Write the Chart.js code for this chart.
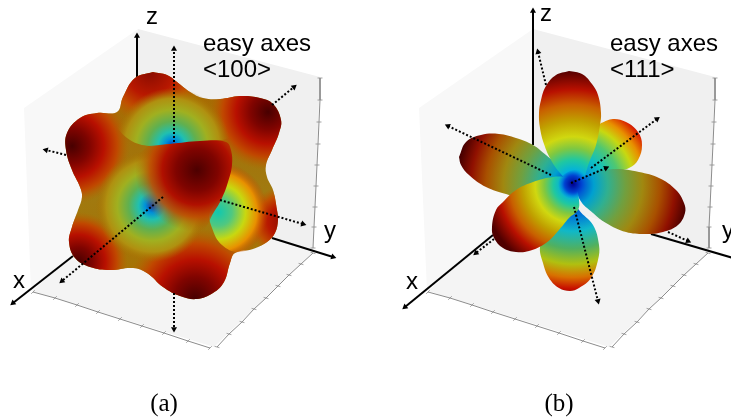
<!DOCTYPE html>
<html>
<head>
<meta charset="utf-8">
<title>easy axes</title>
<script src="https://cdn.jsdelivr.net/npm/chart.js@4"></script>
<style>
  html, body { margin: 0; padding: 0; background: #fff; overflow: hidden; }
  canvas { display: block; filter: blur(0.4px); }
</style>
</head>
<body>
<canvas id="chart" width="731" height="420"></canvas>
<script>

// panel (a) box
const wallLeftA = [[24,108],[138,29],[135,200],[31,291],[24,108]];
const wallRightA = [[138,29],[320,77],[313,252],[135,200],[138,29]];
const floorA = [[32,291],[135,200],[313,252],[214,347],[32,291]];
const ticksZA = [[320,78],[320,100],[319,122],[318,144],[317,165],[316,186],[315,207],[314,227],[313,248]];
const ticksXA = [[33,292],[55,298],[77,305],[98,312],[120,319],[142,326],[164,333],[188,341],[210,348]];
const ticksYA = [[217,347],[229,334],[242,322],[254,309],[266,298],[278,286],[289,275],[301,264],[313,253]];

// panel (a) surface
const outlineA = [[153,72],[167,75],[177,82],[190,92],[203,98],[220,99],[240,96],[260,98],[273,104],[281,120],[279,133],[272,150],[266,165],[267,177],[273,190],[277,210],[278,220],[275,233],[267,242],[253,249],[235,253],[230,263],[224,282],[213,293],[197,299],[180,296],[163,287],[147,273],[133,268],[110,270],[90,267],[75,258],[69,242],[72,227],[78,210],[82,197],[80,187],[72,170],[66,150],[67,133],[80,118],[97,113],[117,112],[123,97],[135,78],[153,72]];
const pitTopA = [[112,122],[125,100],[150,88],[180,86],[210,92],[232,108],[238,130],[226,139],[200,142],[170,144],[150,146],[130,140],[112,122]];
const pitRightA = [[233,160],[248,156],[262,175],[268,205],[262,240],[240,252],[222,245],[212,228],[210,212],[222,195],[233,160]];
const ridgeA = [[148,146],[170,144],[200,141],[226,142],[231,150],[232,165],[228,182],[222,198],[214,212],[200,232],[170,228],[140,200],[125,170],[148,146]];

// panel (a) axes and easy axes
const axisZA = [[137,80],[137,36]];
const axisXA = [[73,256],[13,303]];
const axisYA = [[272,238],[333,257]];
const easyA = [
  [[174,142],[174,49]],
  [[272,105],[294,87]],
  [[66,155],[46,150]],
  [[220,200],[303,224]],
  [[163,197],[62,281]],
  [[174,293],[174,329]]
];

// panel (b) box
const wallLeftB = [[419,108],[533,29],[530,200],[427,291],[419,108]];
const wallRightB = [[533,29],[715,77],[709,252],[530,200],[533,29]];
const floorB = [[428,291],[530,200],[709,252],[609,347],[428,291]];
const ticksZB = [[715,78],[715,100],[714,122],[713,144],[712,165],[711,186],[710,207],[709,227],[709,248]];
const ticksXB = [[428,292],[450,298],[472,305],[493,312],[515,319],[537,326],[559,333],[583,341],[605,348]];
const ticksYB = [[612,347],[624,334],[637,322],[649,309],[661,298],[673,286],[684,275],[696,264],[708,253]];

// panel (b) lobes
const lobeBack = [[601,123],[613,119],[626,122],[638,132],[642,145],[638,160],[629,168],[613,172],[585,182],[580,150],[595,130],[601,123]];
const lobeLeft = [[459,157],[466,142],[481,135],[499,134],[516,138],[533,145],[546,155],[558,165],[572,178],[565,187],[545,195],[520,197],[506,194],[486,187],[469,175],[461,165],[459,157]];
const lobeTop = [[569,71],[582,74],[592,84],[598,95],[601,113],[600,125],[596,145],[590,160],[581,182],[570,182],[560,173],[551,160],[544,144],[540,128],[539,113],[541,100],[546,86],[556,75],[569,71]];
const lobeBottom = [[572,195],[579,210],[593,225],[599,245],[598,260],[591,278],[579,288],[570,291],[559,288],[549,278],[543,263],[540,247],[546,235],[560,225],[572,195]];
const lobeRight = [[575,182],[596,172],[616,169],[639,172],[659,178],[676,190],[684,203],[685,213],[678,225],[663,232],[646,234],[626,232],[606,223],[593,213],[580,200],[575,182]];
const lobeFront = [[569,177],[553,177],[533,182],[516,190],[503,202],[496,210],[492,227],[494,238],[503,248],[516,252],[529,251],[546,243],[559,230],[569,218],[578,210],[579,200],[576,187],[569,177]];
const coreB = [[558,178],[575,170],[590,178],[588,194],[572,200],[560,192],[558,178]];

// panel (b) axes and easy axes
const axisZB = [[533,145],[533,11]];
const axisXB = [[493,235],[405,307]];
const axisYB = [[651,234],[740,260]];
const easyB = [
  [[551,175],[448,126]],
  [[546,85],[538,52]],
  [[591,168],[657,119]],
  [[571,183],[606,168]],
  [[574,207],[598,301]],
  [[494,239],[476,253]],
  [[668,232],[688,241]]
];

// text
const labelTexts = ['z', 'x', 'y', 'easy axes', '<100>', 'z', 'x', 'y', 'easy axes', '<111>'];
const labelAt = [[146,24],[13,288],[324,238],[203,51],[203,77],[540,21],[406,289],[722,238],[610,51],[610,77]];
const captionTexts = ['(a)', '(b)'];
const captionAt = [[164,411],[559,411]];

// colour ramps, centre of the surface out to the tip
const jetBright = [[0,'#00008f'],[0.05,'#0050e0'],[0.12,'#00b0e0'],[0.22,'#20c8a0'],[0.32,'#80c840'],[0.42,'#d0d810'],[0.56,'#c0a000'],[0.7,'#c86000'],[0.83,'#b81000'],[1,'#500000']];
const jetDim = [[0,'#00008f'],[0.08,'#0050d0'],[0.18,'#00a0d0'],[0.3,'#30b090'],[0.45,'#70a040'],[0.6,'#a08810'],[0.75,'#a85000'],[0.88,'#901000'],[1,'#480000']];
const jetBack = [[0,'#0040d0'],[0.15,'#0090e0'],[0.35,'#10c0c0'],[0.52,'#50c870'],[0.68,'#c8d810'],[0.8,'#e89000'],[0.92,'#d82000'],[1,'#900800']];
const jetLong = [[0,'#0030c0'],[0.27,'#0070d8'],[0.42,'#10b8c8'],[0.58,'#50b060'],[0.72,'#b0c010'],[0.84,'#d87000'],[0.94,'#c81000'],[1,'#900800']];
const redPeak = [[0,'#480000'],[0.3,'#800400'],[0.55,'#b81000'],[0.78,'#c04800'],[1,'rgba(180,100,0,0)']];
const softPeak = [[0,'#8a0c00'],[0.45,'#b81800'],[0.75,'#c05000'],[1,'rgba(180,100,0,0)']];
const pitRamp = [[0,'#0038c0'],[0.12,'#0090d8'],[0.24,'#20c0b0'],[0.42,'#60b050'],[0.62,'#a0b020'],[0.82,'#b09010'],[1,'rgba(170,110,0,0)']];
const pitRight = [[0,'#10c8b0'],[0.28,'#50c880'],[0.55,'#c8d810'],[0.78,'#e89000'],[1,'rgba(200,60,0,0)']];
const ridgeRamp = [[0,'#4c0000'],[0.34,'#800400'],[0.56,'#b01000'],[0.76,'rgba(192,70,0,0.85)'],[1,'rgba(170,110,0,0)']];

function linear(x0, y0, x1, y1, stops) {
  return ({ chart }) => {
    if (!chart.chartArea || !chart.scales.x) return 'transparent';
    const g = chart.ctx.createLinearGradient(chart.scales.x.getPixelForValue(x0), chart.scales.y.getPixelForValue(y0), chart.scales.x.getPixelForValue(x1), chart.scales.y.getPixelForValue(y1));
    stops.forEach(s => g.addColorStop(s[0], s[1]));
    return g;
  };
}

function radial(cx, cy, r, stops) {
  return ({ chart }) => {
    if (!chart.chartArea || !chart.scales.x) return 'transparent';
    const px = chart.scales.x.getPixelForValue(cx), py = chart.scales.y.getPixelForValue(cy);
    const g = chart.ctx.createRadialGradient(px, py, 0, px, py, r);
    stops.forEach(s => g.addColorStop(s[0], s[1]));
    return g;
  };
}

const shape = (data, backgroundColor, tension = 0.4) => ({ data, backgroundColor, fill: 'shape', showLine: true, borderWidth: 0, borderColor: 'transparent', tension, pointRadius: 0 });
const edge = (data, angle) => ({ data, showLine: true, borderColor: '#8c8c8c', borderWidth: 1, pointStyle: 'line', pointRadius: 2.5, pointRotation: angle, pointBorderColor: '#8c8c8c', pointBorderWidth: 0.8 });

function arrow(line, width, dash) {
  const a = line[0], b = line[1];
  const rot = Math.atan2(b[0] - a[0], a[1] - b[1]) * 180 / Math.PI;
  return {
    data: line, showLine: true, borderColor: '#000', borderWidth: width, borderDash: dash,
    pointStyle: 'triangle', pointRadius: [0, 3.5], pointRotation: rot, pointBackgroundColor: '#000', pointBorderWidth: 0
  };
}

// painted back to front
const layers = [
  shape(wallLeftA, '#f8f8f8', 0), shape(wallRightA, '#f0f0f0', 0), shape(floorA, '#f4f4f4', 0),
  edge(ticksZA, 0), edge(ticksXA, -45), edge(ticksYA, 15),
  arrow(axisZA, 2, []), arrow(axisXA, 2, []), arrow(axisYA, 2, []),
  shape(outlineA, linear(0, 80, 0, 300, [[0,'#a86800'],[0.5,'#a07a10'],[1,'#a87000']])),
  shape(outlineA, radial(72, 146, 58, redPeak)),
  shape(outlineA, radial(150, 72, 52, softPeak)),
  shape(outlineA, radial(268, 112, 58, redPeak)),
  shape(outlineA, radial(284, 222, 36, softPeak)),
  shape(outlineA, radial(195, 298, 70, redPeak)),
  shape(outlineA, radial(78, 262, 50, redPeak)),
  shape(outlineA, radial(152, 206, 56, pitRamp)),
  shape(pitTopA, radial(172, 146, 58, pitRamp)),
  shape(pitRightA, radial(218, 212, 50, pitRight)),
  shape(ridgeA, radial(197, 170, 62, ridgeRamp)),
  ...easyA.map(l => arrow(l, 2, [2, 2])),

  shape(wallLeftB, '#f8f8f8', 0), shape(wallRightB, '#f0f0f0', 0), shape(floorB, '#f4f4f4', 0),
  edge(ticksZB, 0), edge(ticksXB, -45), edge(ticksYB, 15),
  arrow(axisZB, 2, []), arrow(axisXB, 2, []), arrow(axisYB, 2, []),
  shape(lobeBack, radial(573, 185, 90, jetBack)),
  shape(lobeLeft, radial(573, 185, 116, jetDim)),
  shape(lobeTop, radial(573, 185, 115, jetBright)),
  shape(lobeBottom, radial(573, 185, 110, jetLong)),
  shape(lobeRight, radial(573, 185, 116, jetDim)),
  shape(lobeFront, radial(573, 185, 90, jetBright)),
  shape(coreB, radial(573, 184, 15, [[0,'#00008f'],[0.55,'#0040d0'],[1,'rgba(0,120,220,0)']])),
  ...easyB.map(l => arrow(l, 2, [2, 2]))
];
layers.forEach((d, i) => { d.order = layers.length - i; d.clip = false; });

const textPlugin = {
  id: 'textLabels',
  afterDraw(chart) {
    const { ctx, scales } = chart;
    ctx.save();
    ctx.fillStyle = '#000';
    ctx.textBaseline = 'alphabetic';
    ctx.textAlign = 'left';
    ctx.font = '24px "Liberation Sans"';
    labelTexts.forEach((t, i) => ctx.fillText(t, scales.x.getPixelForValue(labelAt[i][0]), scales.y.getPixelForValue(labelAt[i][1])));
    ctx.textAlign = 'center';
    ctx.font = '25px "Liberation Serif"';
    captionTexts.forEach((t, i) => ctx.fillText(t, scales.x.getPixelForValue(captionAt[i][0]), scales.y.getPixelForValue(captionAt[i][1])));
    ctx.restore();
  }
};

new Chart(document.getElementById('chart'), {
  type: 'scatter',
  data: { datasets: layers },
  options: {
    responsive: false,
    animation: false,
    events: [],
    layout: { padding: 0, autoPadding: false },
    plugins: { legend: { display: false }, tooltip: { enabled: false } },
    scales: {
      x: { type: 'linear', min: 0, max: 731, display: false },
      y: { type: 'linear', min: 0, max: 420, reverse: true, display: false }
    }
  },
  plugins: [textPlugin]
});
</script>
</body>
</html>
